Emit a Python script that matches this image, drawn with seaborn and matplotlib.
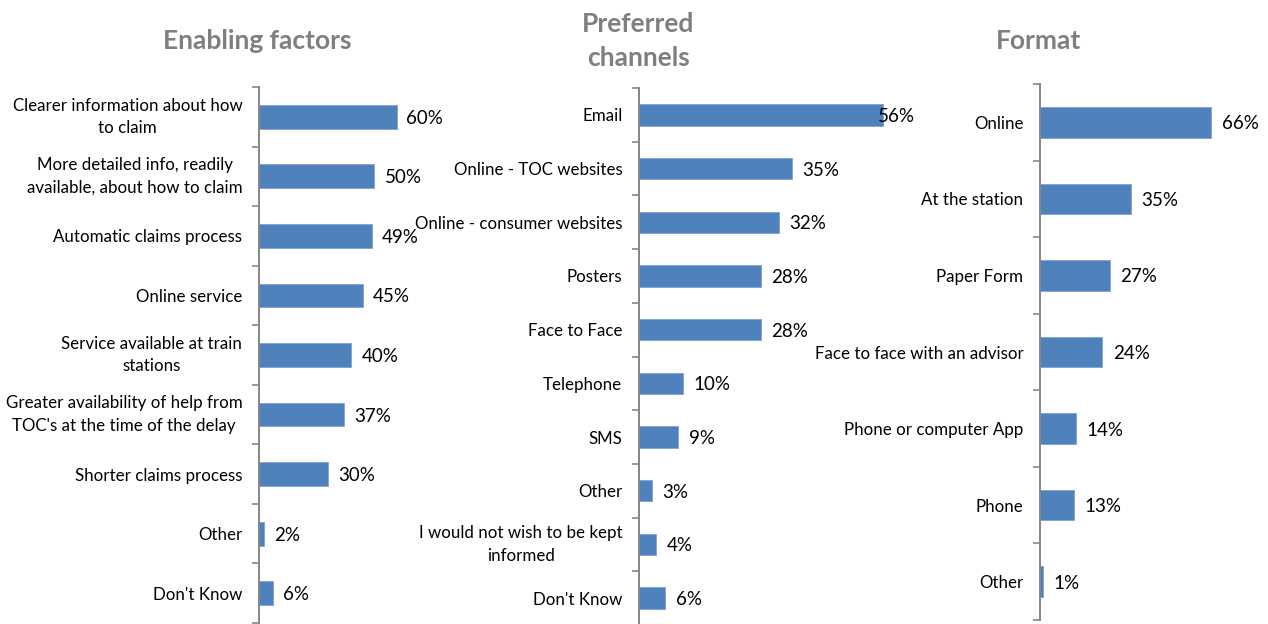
import matplotlib
matplotlib.use("Agg")
import matplotlib.pyplot as plt
import seaborn as sns
import pandas as pd
import numpy as np

# Survey results, percent of respondents
enabling_labels = [
    "Clearer information about how\nto claim",
    "More detailed info, readily\navailable, about how to claim",
    "Automatic claims process",
    "Online service",
    "Service available at train\nstations",
    "Greater availability of help from\nTOC's at the time of the delay",
    "Shorter claims process",
    "Other",
    "Don't Know",
]
enabling_values = [60, 50, 49, 45, 40, 37, 30, 2, 6]

channel_labels = [
    "Email",
    "Online - TOC websites",
    "Online - consumer websites",
    "Posters",
    "Face to Face",
    "Telephone",
    "SMS",
    "Other",
    "I would not wish to be kept\ninformed",
    "Don't Know",
]
channel_values = [56, 35, 32, 28, 28, 10, 9, 3, 4, 6]

format_labels = [
    "Online",
    "At the station",
    "Paper Form",
    "Face to face with an advisor",
    "Phone or computer App",
    "Phone",
    "Other",
]
format_values = [66, 35, 27, 24, 14, 13, 1]

titles = ["Enabling factors", "Preferred\nchannels", "Format"]

sns.set_theme(style="white")
plt.rcParams["font.family"] = ["Lato", "DejaVu Sans"]

W, H = 1268, 624
fig = plt.figure(figsize=(W / 100, H / 100), dpi=100)

BAR = "#4F81BD"
AXIS = "#868686"
TITLE = "#7F7F7F"

# (left px, width px, top px, bottom px, xmax %)
panels = [
    (259, 184, 87, 623, 80.0, enabling_labels, enabling_values),
    (639, 276, 88, 625, 63.3, channel_labels, channel_values),
    (1040, 226, 84, 620, 87.0, format_labels, format_values),
]
title_pos = [(257, 41), (638, 41), (1038, 41)]

for (left, width, top, bottom, xmax, labels, values), title, (tx, ty) in zip(
    panels, titles, title_pos
):
    ax = fig.add_axes([left / W, 1 - bottom / H, width / W, (bottom - top) / H])
    df = pd.DataFrame({"label": labels, "value": values})
    sns.barplot(data=df, x="value", y="label", orient="h", color=BAR,
                saturation=1, width=0.4, edgecolor="#7FA3D0", linewidth=0.6,
                ax=ax)
    n = len(labels)
    ax.set_xlim(0, xmax)
    ax.set_ylim(n - 0.5, -0.5)
    ax.set_xlabel("")
    ax.set_ylabel("")
    ax.set_xticks([])
    for s in ["top", "right", "bottom"]:
        ax.spines[s].set_visible(False)
    ax.spines["left"].set_color(AXIS)
    ax.spines["left"].set_linewidth(1.4)
    ax.set_yticks(np.arange(n))
    ax.set_yticks(np.arange(n + 1) - 0.5, minor=True)
    ax.tick_params(axis="y", which="major", length=0, pad=12, labelsize=12.2,
                   labelcolor="black")
    ax.tick_params(axis="y", which="minor", left=True, length=5, width=1.2,
                   color=AXIS, direction="out")
    for t in ax.get_yticklabels():
        t.set_multialignment("center")
        t.set_linespacing(1.5)
        if "\n" in t.get_text():
            t.set_verticalalignment("center")

    px_per_unit = width / xmax
    for i, v in enumerate(values):
        label_w = 38
        end_px = v * px_per_unit + 10
        if end_px + label_w > width:
            ax.text(1.0, i, f"{v}%", transform=ax.get_yaxis_transform(),
                    ha="right", va="center_baseline", fontsize=13.5,
                    color="black")
        else:
            ax.annotate(f"{v}%", xy=(v, i), xytext=(7.5, 0),
                        textcoords="offset points", ha="left",
                        va="center_baseline", fontsize=13.5, color="black")

    fig.text(tx / W, 1 - ty / H, title, ha="center", va="center",
             fontsize=19, fontweight="bold", color=TITLE, linespacing=1.45)

fig.savefig("out.png", dpi=100)
